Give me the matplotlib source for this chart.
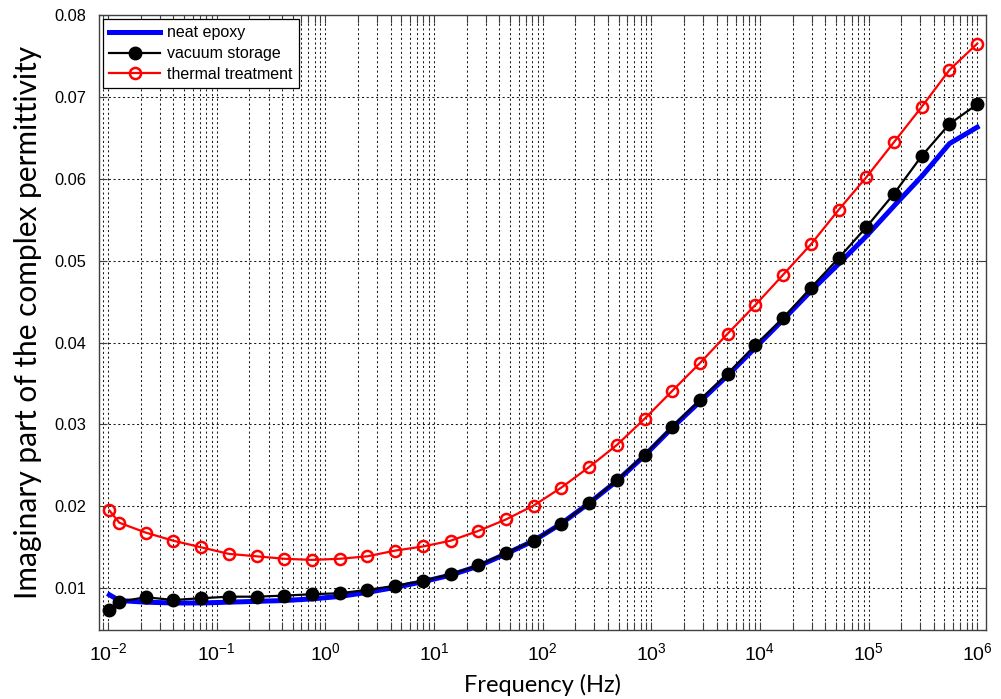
import matplotlib
matplotlib.use("Agg")
import matplotlib.pyplot as plt
from matplotlib.ticker import MultipleLocator, FormatStrFormatter, NullFormatter, LogLocator

plt.rcParams["font.family"] = ["Liberation Sans", "DejaVu Sans"]
plt.rcParams["mathtext.default"] = "regular"

# measurement frequencies (Hz)
freq = [0.0103, 0.0127, 0.0222, 0.040, 0.072, 0.129, 0.233, 0.42, 0.755,
        1.36, 2.44, 4.40, 7.91, 14.2, 25.6, 46.0, 82.8, 149.0, 268.0, 483.0,
        869.0, 1.56e3, 2.81e3, 5.06e3, 9.1e3, 1.64e4, 2.95e4, 5.3e4, 9.55e4,
        1.72e5, 3.09e5, 5.56e5, 1.0e6]

neat_epoxy = [0.0092, 0.0085, 0.0083, 0.0082, 0.0082, 0.0083, 0.0084, 0.0085,
              0.0087, 0.0090, 0.0095, 0.0101, 0.0108, 0.0116, 0.0127, 0.0142,
              0.0158, 0.0179, 0.0204, 0.0231, 0.0262, 0.0296, 0.0328, 0.0360,
              0.0394, 0.0428, 0.0463, 0.0496, 0.0530, 0.0567, 0.0603, 0.0643,
              0.0663]

vacuum_storage = [0.00734, 0.00836, 0.0089, 0.00857, 0.00878, 0.00897, 0.00897,
                  0.0091, 0.00927, 0.00939, 0.0098, 0.0103, 0.0109, 0.0117,
                  0.0128, 0.0143, 0.0158, 0.0179, 0.0204, 0.0232, 0.0263,
                  0.0297, 0.0330, 0.0362, 0.0397, 0.0430, 0.0467, 0.0503,
                  0.0541, 0.0582, 0.0628, 0.0667, 0.0691]

thermal_treatment = [0.0195, 0.0180, 0.0168, 0.0158, 0.0150, 0.0142, 0.0139,
                     0.0136, 0.01346, 0.0136, 0.0139, 0.0146, 0.0151, 0.0158,
                     0.0170, 0.0184, 0.0201, 0.0223, 0.0248, 0.0275, 0.0307,
                     0.0341, 0.0375, 0.0411, 0.0446, 0.0483, 0.0520, 0.0562,
                     0.0602, 0.0645, 0.0688, 0.0733, 0.0765]

decades = [1e-2, 1e-1, 1e0, 1e1, 1e2, 1e3, 1e4, 1e5, 1e6]

fig = plt.figure(figsize=(10.01, 6.99), dpi=100)
ax = fig.add_axes([0.0989, 0.0987, 0.886, 0.8798])

ax.plot(freq, neat_epoxy, color="#0000ff", lw=3.6, label="neat epoxy", zorder=3)
ax.plot(freq, vacuum_storage, color="black", lw=1.6, marker="o", ms=9,
        mfc="black", mec="black", label="vacuum storage", zorder=4)
ax.plot(freq, thermal_treatment, color="#ff0000", lw=1.6, marker="o", ms=8,
        mfc="none", mec="#ff0000", mew=1.8, label="thermal treatment", zorder=5)

ax.set_xscale("log")
ax.set_xlim(10 ** -2.083, 10 ** 6.08)
ax.set_ylim(0.0049, 0.08)

ax.set_xticks(decades)
ax.xaxis.set_minor_locator(LogLocator(base=10, subs=range(2, 10), numticks=20))
ax.xaxis.set_minor_formatter(NullFormatter())
ax.yaxis.set_major_locator(MultipleLocator(0.01))
ax.yaxis.set_major_formatter(FormatStrFormatter("%.2f"))

grid_style = dict(color="#1a1a1a", linestyle=(0, (2, 2.5)), linewidth=0.75)
ax.grid(True, which="major", axis="both", **grid_style)
ax.grid(True, which="minor", axis="x", **grid_style)
ax.set_axisbelow(True)

ax.tick_params(which="both", direction="in", top=True, right=True,
               length=6, width=0.8, color="#404040")
ax.tick_params(axis="x", which="major", labelsize=14, pad=9)
ax.tick_params(axis="y", which="major", labelsize=11.8, pad=9)
for spine in ax.spines.values():
    spine.set_color("#404040")
    spine.set_linewidth(1.0)

ax.set_xlabel("Frequency (Hz)", family=["Lato", "DejaVu Sans"],
              fontsize=17, labelpad=7)
ax.set_ylabel("Imaginary part of the complex permittivity",
              family=["Lato", "DejaVu Sans"], fontsize=21.5, labelpad=9)

leg = ax.legend(loc="upper left", fontsize=11.5, handlelength=3.2,
                borderaxespad=0.25, fancybox=False, framealpha=1,
                edgecolor="black", labelspacing=0.36, borderpad=0.4,
                handletextpad=0.4)
leg.get_frame().set_linewidth(0.9)

fig.savefig("out.png", dpi=100)
